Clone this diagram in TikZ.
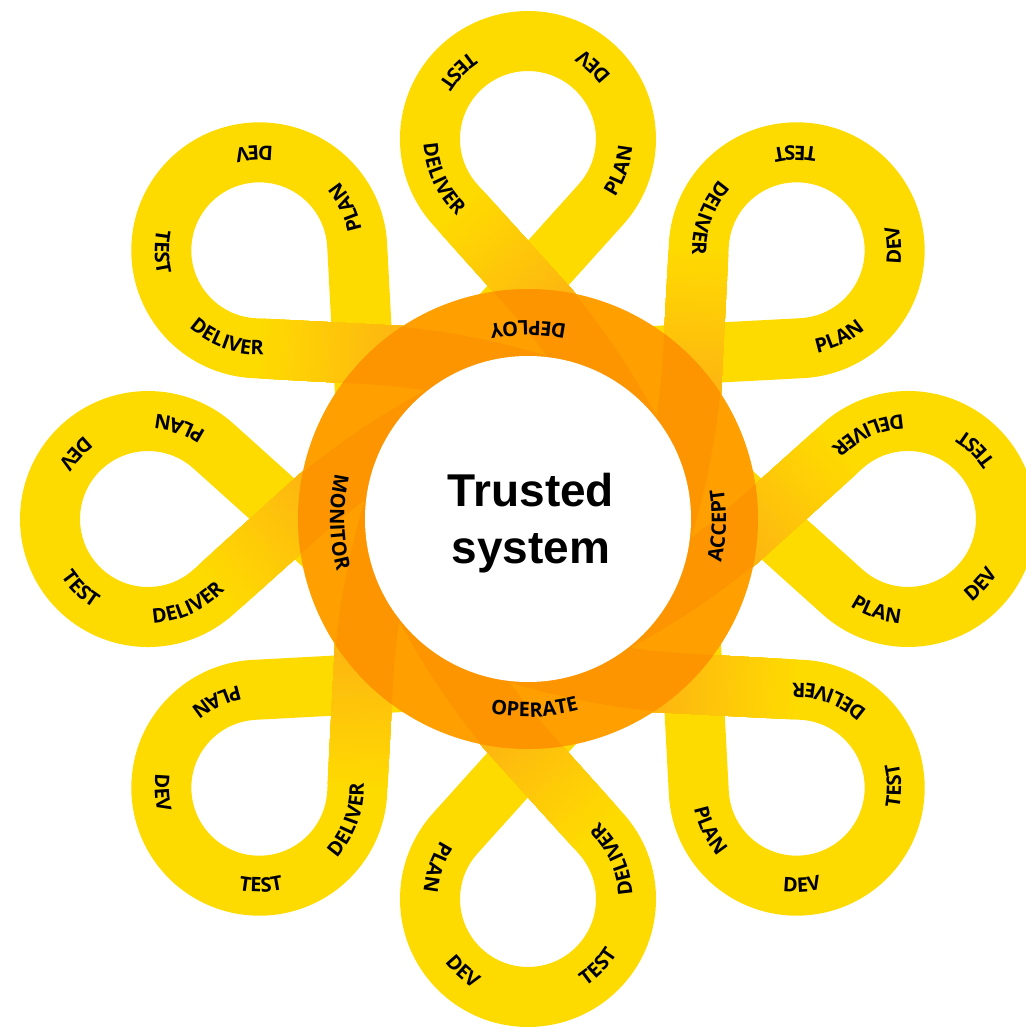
\documentclass[tikz,border=0pt]{standalone}
\usepackage{fontspec}
\usetikzlibrary{calc,decorations.text}
\newfontfamily\corefont{Liberation Sans}
\newfontfamily\lblfont{Open Sans}
\newcommand\lblstyle{\lblfont\bfseries\fontsize{10}{11}\selectfont}
\definecolor{petal}{HTML}{FEDB00}
\definecolor{amber}{HTML}{FDAE14}
\definecolor{ringbase}{HTML}{FF9F00}
\definecolor{ringdeep}{HTML}{F77F00}
\tikzset{band/.style={line width=30pt, draw=petal}}
\begin{document}
\begin{tikzpicture}[x=0.5pt, y=0.5pt,
    looplabel/.style={decorate, decoration={text along path, text align=center, text={|\lblstyle|#1}}}]
  \useasboundingbox (-528,-510) rectangle (497,519);
  % the eight loops
  \foreach \rot in {0,45,...,315}{
    \begin{scope}[rotate=\rot]
      \coordinate (tanR) at (72.8,314.4);
      \coordinate (tanL) at (-72.8,314.4);
      \coordinate (inL) at (-40.1,188.9);
      \coordinate (inR) at (40.1,188.9);
      \draw[band] (inL) -- (tanR) arc[start angle=-42, end angle=222, radius=98] -- (inR);
      % strand on top, fading to amber
      \foreach \i in {1,...,24}{
        \pgfmathsetmacro\pos{\i/25}
        \pgfmathtruncatemacro\pct{\i*4}
        \draw[band, draw=amber!\pct!petal] ($(tanL)!\pos!(inR)$) -- (inR);
      }
      \begin{scope}[shift={(0,380)}]
        \path[looplabel=PLAN] (-64:104.5) arc[start angle=-64, end angle=26, radius=104.5];
        \path[looplabel=DEV] (3:104.5) arc[start angle=3, end angle=93, radius=104.5];
        \path[looplabel=TEST] (91:104.5) arc[start angle=91, end angle=181, radius=104.5];
        \path[looplabel=DELIVER] (160:104.5) arc[start angle=160, end angle=250, radius=104.5];
      \end{scope}
    \end{scope}
  }
  % ring
  \fill[ringbase] (0,0) circle (230);
  \begin{scope}
    \clip (0,0) circle (230);
    \foreach \rot in {0,45,...,315}
      \draw[line width=30pt, ringdeep, opacity=.3, rotate=\rot] (-40.1,278.1) -- (0,233.5) arc[start angle=42, end angle=24, radius=737];
  \end{scope}
  \fill[white] (0,0) circle (163);
  \path[looplabel=DEPLOY] (55:198) arc[start angle=55, end angle=125, radius=198];
  \path[looplabel=ACCEPT] (-37:198) arc[start angle=-37, end angle=33, radius=198];
  \path[looplabel=OPERATE] (-128:198) arc[start angle=-128, end angle=-48, radius=198];
  \path[looplabel=MONITOR] (141:198) arc[start angle=141, end angle=221, radius=198];
  \node[font=\corefont\bfseries\fontsize{23}{28.5}\selectfont, align=center, inner sep=0] (core) at (3,-4.5) {Trusted\\system};
\end{tikzpicture}
\end{document}
